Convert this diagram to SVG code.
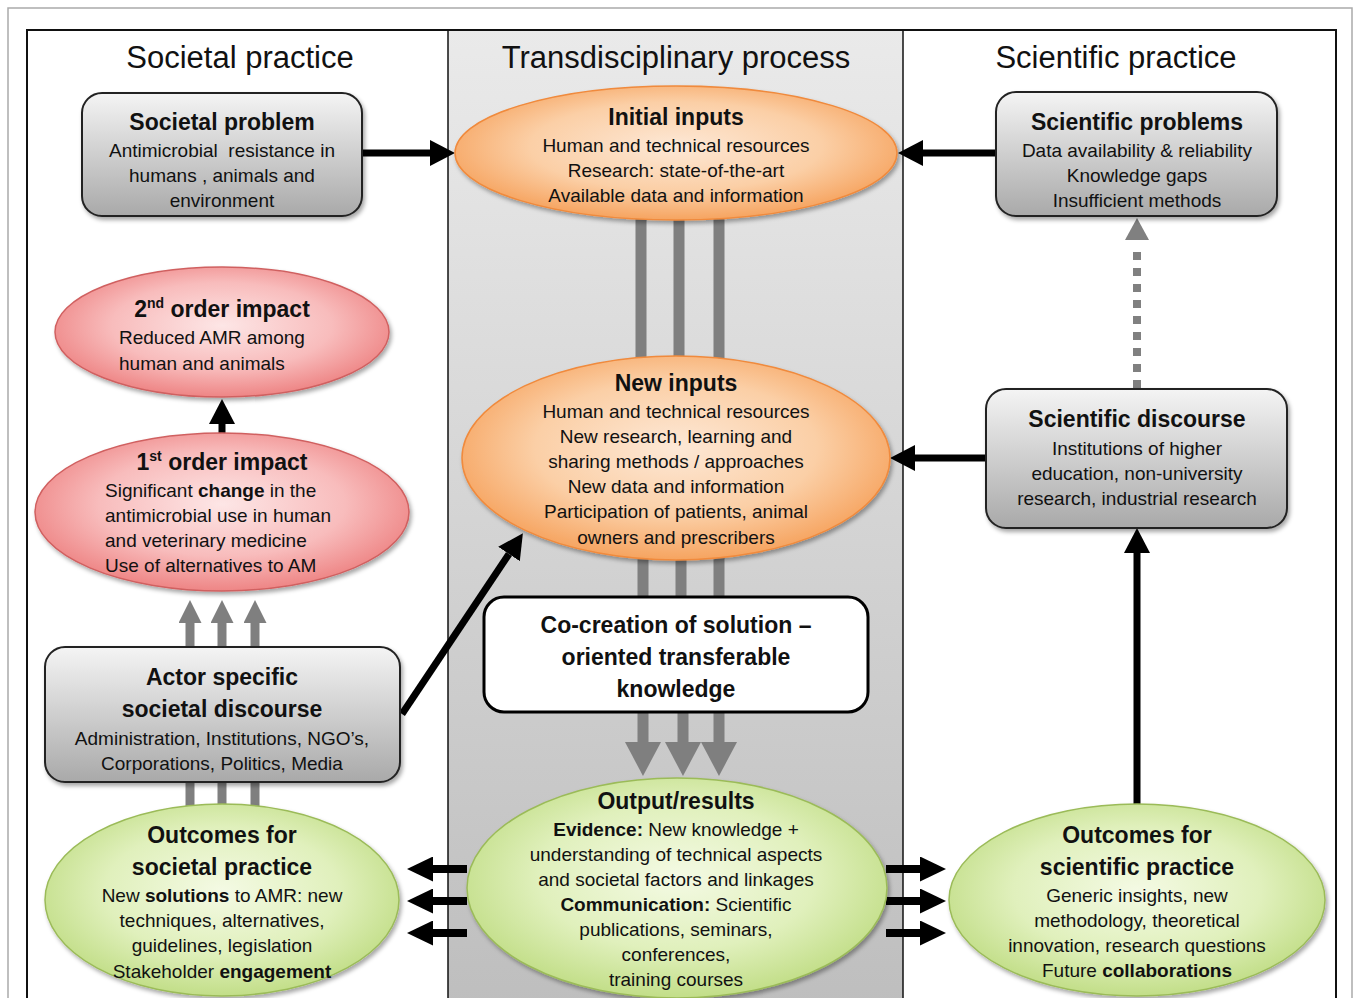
<svg xmlns="http://www.w3.org/2000/svg" width="1356" height="998" viewBox="0 0 1356 998">
<style>
text{font-family:"Liberation Sans",Arial,sans-serif;fill:#111;text-anchor:middle}
.col{font-size:31px}
.t{font-size:23px;font-weight:bold}
.b{font-size:19px}
.l{text-anchor:start}
.bb{font-weight:bold}
.box{fill:url(#gBox);stroke:#222;stroke-width:2}
.or{fill:url(#gOr);stroke:#f08a3c;stroke-width:1.5}
.rd{fill:url(#gRd);stroke:#d06060;stroke-width:1.5}
.gr{fill:url(#gGr);stroke:#9bbb59;stroke-width:1.5}
.ka{stroke:#000;stroke-width:7;fill:none;marker-end:url(#hk)}
.ks{stroke:#000;stroke-width:8;fill:none;marker-end:url(#hks)}
.gbar{stroke:#7f7f7f;stroke-width:11;fill:none}
.gs{stroke:#7f7f7f;stroke-width:9;fill:none}
</style>
<defs>
<linearGradient id="gBox" x1="0" y1="0" x2="0" y2="1"><stop offset="0" stop-color="#f4f4f4"/><stop offset="1" stop-color="#a9a9a9"/></linearGradient>
<linearGradient id="gMid" x1="0" y1="0" x2="0" y2="1"><stop offset="0" stop-color="#eaeaea"/><stop offset="1" stop-color="#bebebe"/></linearGradient>
<radialGradient id="gOr" cx="0.5" cy="0.45" r="0.55"><stop offset="0" stop-color="#fde8d6"/><stop offset="0.6" stop-color="#fbcfa6"/><stop offset="1" stop-color="#f6a460"/></radialGradient>
<radialGradient id="gRd" cx="0.5" cy="0.45" r="0.55"><stop offset="0" stop-color="#fde6e6"/><stop offset="0.6" stop-color="#f8bcbc"/><stop offset="1" stop-color="#ee8585"/></radialGradient>
<radialGradient id="gGr" cx="0.5" cy="0.45" r="0.55"><stop offset="0" stop-color="#f4fae4"/><stop offset="0.6" stop-color="#e0f0bc"/><stop offset="1" stop-color="#c2de88"/></radialGradient>
<filter id="sh" x="-10%" y="-10%" width="125%" height="130%"><feDropShadow dx="2" dy="3" stdDeviation="2" flood-color="#000" flood-opacity="0.35"/></filter>
<marker id="hk" viewBox="0 0 10 10" refX="0" refY="5" markerUnits="userSpaceOnUse" markerWidth="25" markerHeight="26" orient="auto" preserveAspectRatio="none"><path d="M0,0 L10,5 L0,10 Z" fill="#000"/></marker>
<marker id="hks" viewBox="0 0 10 10" refX="0" refY="5" markerUnits="userSpaceOnUse" markerWidth="26" markerHeight="25" orient="auto" preserveAspectRatio="none"><path d="M0,0 L10,5 L0,10 Z" fill="#000"/></marker>
<marker id="hg" viewBox="0 0 10 10" refX="0" refY="5" markerUnits="userSpaceOnUse" markerWidth="23" markerHeight="23" orient="auto" preserveAspectRatio="none"><path d="M0,0 L10,5 L0,10 Z" fill="#7f7f7f"/></marker>
<marker id="hgb" viewBox="0 0 10 10" refX="0" refY="5" markerUnits="userSpaceOnUse" markerWidth="34" markerHeight="36" orient="auto" preserveAspectRatio="none"><path d="M0,0 L10,5 L0,10 Z" fill="#7f7f7f"/></marker>
</defs>

<rect x="0" y="0" width="1356" height="998" fill="#fff"/>
<rect x="8" y="8" width="1344" height="1000" fill="none" stroke="#aaa" stroke-width="1.5"/>
<g id="columns">
<rect x="448" y="30" width="455" height="980" fill="url(#gMid)"/>
<rect x="27" y="30" width="1309" height="980" fill="none" stroke="#111" stroke-width="2"/>
<line x1="448" y1="30" x2="448" y2="998" stroke="#111" stroke-width="1.5"/>
<line x1="903" y1="30" x2="903" y2="998" stroke="#111" stroke-width="1.5"/>
<text class="col" x="240" y="68">Societal practice</text>
<text class="col" x="676" y="68">Transdisciplinary process</text>
<text class="col" x="1116" y="68">Scientific practice</text>
</g>

<g id="connectors">
<line class="gbar" x1="641" y1="218" x2="641" y2="368"/>
<line class="gbar" x1="679" y1="218" x2="679" y2="368"/>
<line class="gbar" x1="719" y1="218" x2="719" y2="368"/>
<line class="gbar" x1="643" y1="545" x2="643" y2="600"/>
<line class="gbar" x1="681" y1="545" x2="681" y2="600"/>
<line class="gbar" x1="719" y1="545" x2="719" y2="600"/>
<line x1="643" y1="710" x2="643" y2="742" stroke="#7f7f7f" stroke-width="11" marker-end="url(#hgb)"/>
<line x1="683" y1="710" x2="683" y2="742" stroke="#7f7f7f" stroke-width="11" marker-end="url(#hgb)"/>
<line x1="719" y1="710" x2="719" y2="742" stroke="#7f7f7f" stroke-width="11" marker-end="url(#hgb)"/>
<line x1="190" y1="650" x2="190" y2="623" stroke="#7f7f7f" stroke-width="9" marker-end="url(#hg)"/>
<line x1="222" y1="650" x2="222" y2="623" stroke="#7f7f7f" stroke-width="9" marker-end="url(#hg)"/>
<line x1="255" y1="650" x2="255" y2="623" stroke="#7f7f7f" stroke-width="9" marker-end="url(#hg)"/>
<line class="gs" x1="190" y1="780" x2="190" y2="815"/>
<line class="gs" x1="222" y1="780" x2="222" y2="815"/>
<line class="gs" x1="255" y1="780" x2="255" y2="815"/>
<line x1="1137" y1="388" x2="1137" y2="246" stroke="#808080" stroke-width="8" stroke-dasharray="8 8"/>
<polygon points="1137,218 1149,240 1125,240" fill="#808080"/>
<line class="ka" x1="362" y1="153" x2="430" y2="153"/>
<line class="ka" x1="996" y1="153" x2="923" y2="153"/>
<line class="ka" x1="986" y1="458" x2="915" y2="458"/>
<line class="ka" x1="402" y1="714" x2="509" y2="554"/>
<line class="ka" x1="222" y1="434" x2="222" y2="424"/>
<line class="ka" x1="1137" y1="806" x2="1137" y2="553"/>
<line class="ks" x1="467" y1="869" x2="433" y2="869"/>
<line class="ks" x1="467" y1="901" x2="433" y2="901"/>
<line class="ks" x1="467" y1="933" x2="433" y2="933"/>
<line class="ks" x1="886" y1="869" x2="920" y2="869"/>
<line class="ks" x1="886" y1="901" x2="920" y2="901"/>
<line class="ks" x1="886" y1="933" x2="920" y2="933"/>
</g>

<g id="societal-problem">
<rect class="box" x="82" y="93" width="280" height="123" rx="20" filter="url(#sh)"/>
<text class="t" x="222" y="130">Societal problem</text>
<text class="b" x="222" y="157" style="white-space:pre">Antimicrobial  resistance in</text>
<text class="b" x="222" y="182">humans , animals and</text>
<text class="b" x="222" y="207">environment</text>
</g>

<g id="initial-inputs">
<ellipse class="or" cx="676" cy="153" rx="221" ry="67" filter="url(#sh)"/>
<text class="t" x="676" y="125">Initial inputs</text>
<text class="b" x="676" y="152">Human and technical resources</text>
<text class="b" x="676" y="177">Research: state-of-the-art</text>
<text class="b" x="676" y="202">Available data and information</text>
</g>

<g id="scientific-problems">
<rect class="box" x="996" y="92" width="281" height="124" rx="20" filter="url(#sh)"/>
<text class="t" x="1137" y="130">Scientific problems</text>
<text class="b" x="1137" y="157">Data availability &amp; reliability</text>
<text class="b" x="1137" y="182">Knowledge gaps</text>
<text class="b" x="1137" y="207">Insufficient methods</text>
</g>

<g id="second-order-impact">
<ellipse class="rd" cx="222" cy="332" rx="167" ry="65" filter="url(#sh)"/>
<text class="t" x="222" y="317">2<tspan font-size="14" dy="-9">nd</tspan><tspan dy="9"> order impact</tspan></text>
<text class="b l" x="119" y="344">Reduced AMR among</text>
<text class="b l" x="119" y="370">human and animals</text>
</g>

<g id="first-order-impact">
<ellipse class="rd" cx="222" cy="512" rx="187" ry="79" filter="url(#sh)"/>
<text class="t" x="222" y="470">1<tspan font-size="14" dy="-9">st</tspan><tspan dy="9"> order impact</tspan></text>
<text class="b l" x="105" y="497">Significant <tspan class="bb">change</tspan> in the</text>
<text class="b l" x="105" y="522">antimicrobial use in human</text>
<text class="b l" x="105" y="547">and veterinary medicine</text>
<text class="b l" x="105" y="572">Use of alternatives to AM</text>
</g>

<g id="new-inputs">
<ellipse class="or" cx="676" cy="458" rx="214" ry="102" filter="url(#sh)"/>
<text class="t" x="676" y="391">New inputs</text>
<text class="b" x="676" y="418">Human and technical resources</text>
<text class="b" x="676" y="443">New research, learning and</text>
<text class="b" x="676" y="468">sharing methods / approaches</text>
<text class="b" x="676" y="493">New data and information</text>
<text class="b" x="676" y="518">Participation of patients, animal</text>
<text class="b" x="676" y="544">owners and prescribers</text>
</g>

<g id="scientific-discourse">
<rect class="box" x="986" y="389" width="301" height="139" rx="20" filter="url(#sh)"/>
<text class="t" x="1137" y="427">Scientific discourse</text>
<text class="b" x="1137" y="455">Institutions of higher</text>
<text class="b" x="1137" y="480">education, non-university</text>
<text class="b" x="1137" y="505">research, industrial research</text>
</g>

<g id="co-creation">
<rect x="484" y="597" width="384" height="115" rx="20" fill="#fff" stroke="#000" stroke-width="3"/>
<text class="t" x="676" y="633">Co-creation of solution –</text>
<text class="t" x="676" y="665">oriented transferable</text>
<text class="t" x="676" y="697">knowledge</text>
</g>

<g id="actor-discourse">
<rect class="box" x="45" y="647" width="355" height="135" rx="20" filter="url(#sh)"/>
<text class="t" x="222" y="685">Actor specific</text>
<text class="t" x="222" y="717">societal discourse</text>
<text class="b" x="222" y="745">Administration, Institutions, NGO’s,</text>
<text class="b" x="222" y="770">Corporations, Politics, Media</text>
</g>

<g id="outcomes-societal">
<ellipse class="gr" cx="222" cy="900" rx="177" ry="96" filter="url(#sh)"/>
<text class="t" x="222" y="843">Outcomes for</text>
<text class="t" x="222" y="875">societal practice</text>
<text class="b" x="222" y="902">New <tspan class="bb">solutions</tspan> to AMR: new</text>
<text class="b" x="222" y="927">techniques, alternatives,</text>
<text class="b" x="222" y="952">guidelines, legislation</text>
<text class="b" x="222" y="978">Stakeholder <tspan class="bb">engagement</tspan></text>
</g>

<g id="output-results">
<ellipse class="gr" cx="677" cy="888" rx="210" ry="110" filter="url(#sh)"/>
<text class="t" x="676" y="809">Output/results</text>
<text class="b" x="676" y="836"><tspan class="bb">Evidence:</tspan> New knowledge +</text>
<text class="b" x="676" y="861">understanding of technical aspects</text>
<text class="b" x="676" y="886">and societal factors and linkages</text>
<text class="b" x="676" y="911"><tspan class="bb">Communication:</tspan> Scientific</text>
<text class="b" x="676" y="936">publications, seminars,</text>
<text class="b" x="676" y="961">conferences,</text>
<text class="b" x="676" y="986">training courses</text>
</g>

<g id="outcomes-scientific">
<ellipse class="gr" cx="1137" cy="900" rx="188" ry="96" filter="url(#sh)"/>
<text class="t" x="1137" y="843">Outcomes for</text>
<text class="t" x="1137" y="875">scientific practice</text>
<text class="b" x="1137" y="902">Generic insights, new</text>
<text class="b" x="1137" y="927">methodology, theoretical</text>
<text class="b" x="1137" y="952">innovation, research questions</text>
<text class="b" x="1137" y="977">Future <tspan class="bb">collaborations</tspan></text>
</g>
</svg>
